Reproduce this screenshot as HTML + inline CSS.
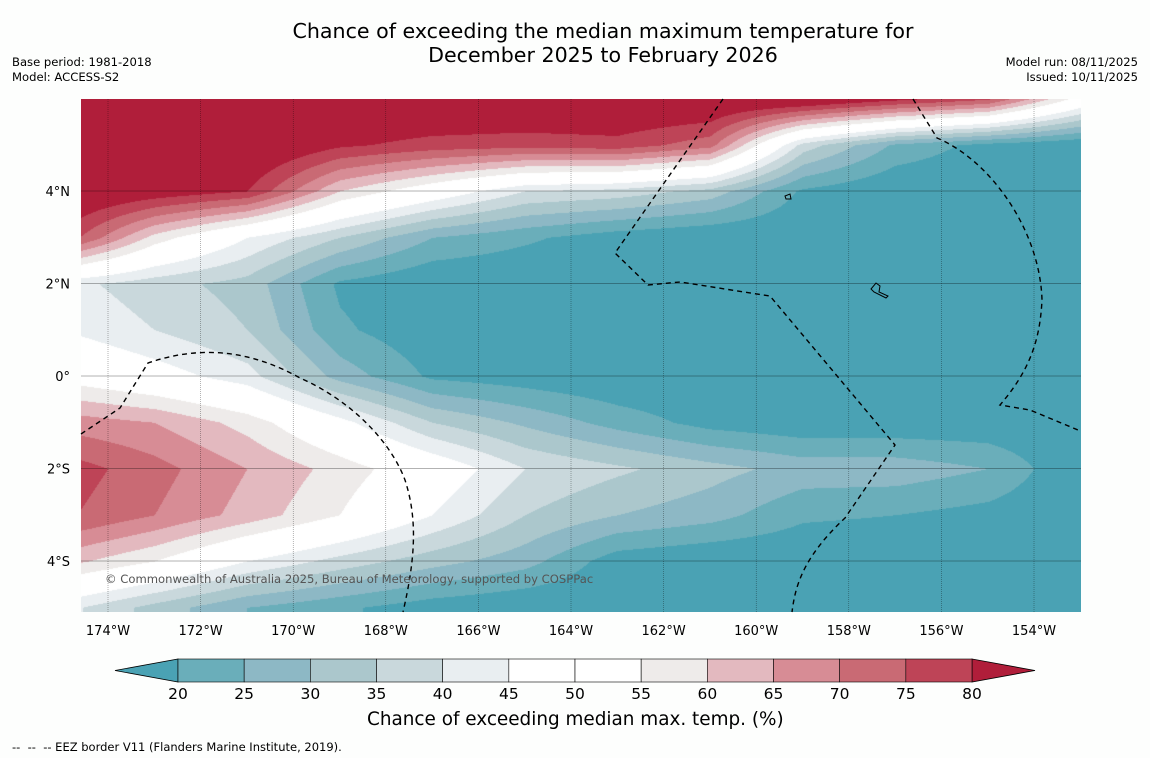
<!DOCTYPE html>
<html><head><meta charset="utf-8"><style>
body{margin:0;background:#fdfefd;font-family:"DejaVu Sans","Liberation Sans",sans-serif;}
#wrap{position:relative;width:1150px;height:758px;overflow:hidden;}
.t{position:absolute;color:#000;white-space:nowrap;}
</style></head><body>
<div id="wrap">
<div class="t" style="left:0;width:1206px;top:19px;text-align:center;font-size:20.6px;line-height:24px;">Chance of exceeding the median maximum temperature for<br>December 2025 to February 2026</div>
<div class="t" style="left:12px;top:55px;font-size:11.6px;line-height:15px;">Base period: 1981-2018<br>Model: ACCESS-S2</div>
<div class="t" style="right:12px;top:55px;font-size:11.6px;line-height:15px;text-align:right;">Model run: 08/11/2025<br>Issued: 10/11/2025</div>
<canvas id="map" width="1000" height="513" style="position:absolute;left:81px;top:99px;"></canvas>
<svg id="svg" width="1150" height="758" style="position:absolute;left:0;top:0;"></svg>
<div class="t" style="left:105px;top:572px;font-size:11.6px;color:#555;">© Commonwealth of Australia 2025, Bureau of Meteorology, supported by COSPPac</div>
<div class="t" style="left:367px;top:709px;font-size:18.4px;">Chance of exceeding median max. temp. (%)</div>
<div class="t" style="left:12px;top:740px;font-size:11.5px;">-- &nbsp;-- &nbsp;-- EEZ border V11 (Flanders Marine Institute, 2019).</div>
</div>
<script>
const levels=[20,25,30,35,40,45,50,55,60,65,70,75,80];
const colors=["#4aa2b4","#6aaeba","#8db8c5","#abc7cc","#c9d8dc","#e9eef1","#ffffff","#ffffff","#eeebea","#e3b9bf","#d78c95","#c96a74","#be4457","#b01e3a"];
const lonTicks=[-174,-172,-170,-168,-166,-164,-162,-160,-158,-156,-154];
const latTicks=[4,2,0,-2,-4];
const gridLons=[-175,-173,-171,-169,-167,-165,-163,-161,-159,-157,-155,-153];
const gridLats=[6,5,4,3,2,1,0,-1,-2,-3,-4,-5];
const gridValues=[
[88,88,88,88,88,88,88,88,88,82,76,52],
[88,88,88,81,78,77,78,72,38,24,18,15],
[88,84,80,60,50,40,38,33,19,15,15,15],
[79,58,45,35,25,21,17,15,15,15,15,15],
[42,37,33,19,15,15,15,15,15,15,15,15],
[45,40,35,21,16,15,15,15,15,15,15,15],
[53,48,42,28,19,17,15,15,15,15,15,15],
[68,65,58,47,35,29,23,18,16,16,16,15],
[78,72,65,58,50,40,36,32,28,28,25,15],
[76,70,63,55,45,35,30,27,21,20,18,15],
[62,55,45,38,32,27,17,15,15,15,15,15],
[42,33,25,21,17,15,15,15,15,15,15,15]];
const X0=81,Y0=99;
const xOf=lon=>108+(lon+174)*46.3;
const yOf=lat=>376-lat*46.25;
const lonOf=x=>(x-108)/46.3-174;
const latOf=y=>(376-y)/46.25;
function val(lon,lat){
 let fi=(lon-gridLons[0])/2, fj=(gridLats[0]-lat)/1;
 fi=Math.max(0,Math.min(gridLons.length-1.0001,fi));fj=Math.max(0,Math.min(gridLats.length-1.0001,fj));
 const i=Math.floor(fi),j=Math.floor(fj),a=fi-i,b=fj-j;
 const v=gridValues;
 return (v[j][i]*(1-a)+v[j][i+1]*a)*(1-b)+(v[j+1][i]*(1-a)+v[j+1][i+1]*a)*b;
}
const cv=document.getElementById('map'),ctx=cv.getContext('2d');
const rgb=colors.map(c=>[parseInt(c.slice(1,3),16),parseInt(c.slice(3,5),16),parseInt(c.slice(5,7),16)]);
const img=ctx.createImageData(1000,513);
for(let y=0;y<513;y++)for(let x=0;x<1000;x++){
 const v=val(lonOf(x+X0),latOf(y+Y0));let k=0;while(k<levels.length&&v>=levels[k])k++;
 const p=(y*1000+x)*4;img.data[p]=rgb[k][0];img.data[p+1]=rgb[k][1];img.data[p+2]=rgb[k][2];img.data[p+3]=255;}
ctx.putImageData(img,0,0);
const svg=document.getElementById('svg');const NS="http://www.w3.org/2000/svg";
function mk(tag,attrs,parent){const e=document.createElementNS(NS,tag);for(const k in attrs)e.setAttribute(k,attrs[k]);(parent||svg).appendChild(e);return e;}
const FF='DejaVu Sans, Liberation Sans, sans-serif';
lonTicks.forEach(lon=>{const x=xOf(lon);
 const l=mk('line',{x1:x,x2:x,y1:99,y2:612,stroke:'#000','stroke-width':0.5,'stroke-dasharray':'1,1','stroke-opacity':0.6});
 
 
 const t=mk('text',{x:x,y:635,'text-anchor':'middle','font-size':13,'font-family':FF});t.textContent=Math.abs(lon)+'°W';
 
 });
latTicks.forEach(lat=>{const y=yOf(lat);
 const l=mk('line',{x1:81,x2:1081,y1:y,y2:y,stroke:'#000','stroke-width':0.5,'stroke-opacity':0.6});
 
 
 const t=mk('text',{x:70,y:y+5,'text-anchor':'end','font-size':13,'font-family':FF});t.textContent=lat===0?'0°':Math.abs(lat)+'°'+(lat>0?'N':'S');
 
 });
const eez=["M723,99 L615,253 L648,285 L680,282 L770,296 L895,445 L845,518 C800,560 795,590 792,612",
"M913,99 L937,138 C990,160 1040,230 1042,300 C1040,340 1030,370 1000,405 L1030,410 L1078,430",
"M81,434 L120,408 L148,363 C200,345 250,350 300,378 C350,400 390,440 405,480 C418,520 415,560 403,612"];
eez.forEach(d=>{const p=mk('path',{d:d,fill:'none',stroke:'#000','stroke-width':1.4,'stroke-dasharray':'5,4'});
 
 });
const isl=mk('path',{d:"M871,289 L876,283 L880,286 L879,292 L888,296 L886,298 L874,292 Z M785,196 L790,194 L791,199 L786,199 Z",fill:'none',stroke:'#000','stroke-width':1});


const cbX=v=>178+(v-20)*(794/60);
const cb=mk('g',{});
mk('polygon',{points:`115,670.5 178,659 178,682`,fill:colors[0],stroke:'#000','stroke-width':0.8},cb);
mk('polygon',{points:`972,659 1035,670.5 972,682`,fill:colors[13],stroke:'#000','stroke-width':0.8},cb);
for(let k=0;k<levels.length-1;k++){const r=mk('rect',{x:cbX(levels[k]),y:659,width:cbX(levels[k+1])-cbX(levels[k]),height:23,fill:colors[k+1],stroke:'#000','stroke-width':0.6},cb);
 
 }
levels.forEach(v=>{const t=mk('text',{x:cbX(v),y:699,'text-anchor':'middle','font-size':15.5,'font-family':FF},cb);t.textContent=v;
 
 });
</script>
</body></html>
